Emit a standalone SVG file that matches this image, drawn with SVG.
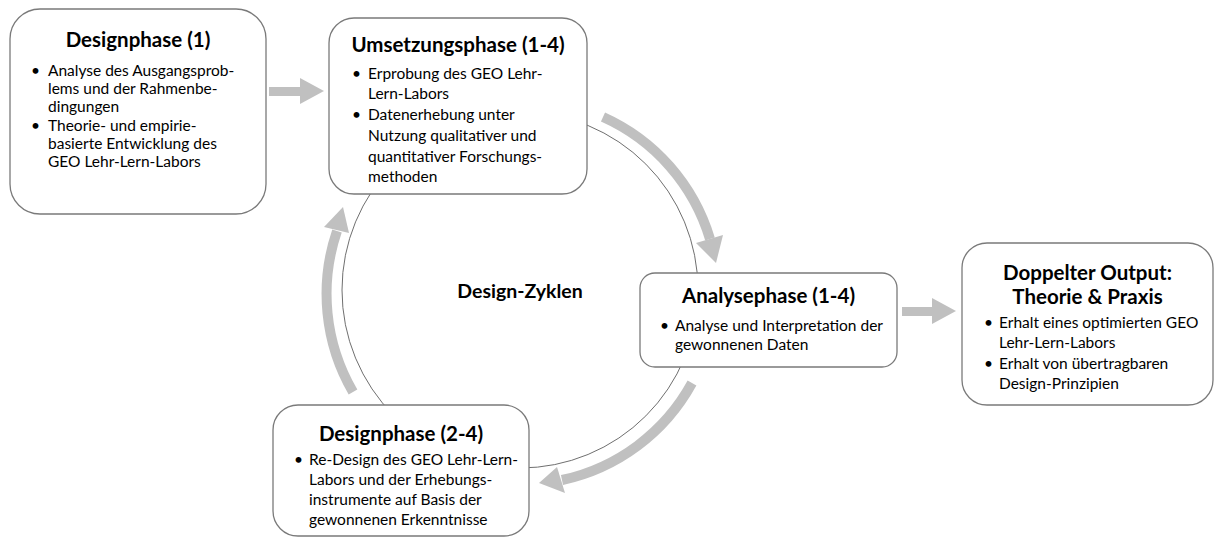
<svg xmlns="http://www.w3.org/2000/svg" width="1216" height="540" viewBox="0 0 1216 540">
<style>
.box{fill:#fff;stroke:#7a7a7a;stroke-width:1.3}
.t{font-family:Lato,"Open Sans",sans-serif;font-weight:bold;font-size:20.5px;fill:#000;text-anchor:middle}
.b{font-family:Lato,"Open Sans",sans-serif;font-size:15.5px;fill:#000}
.ring{fill:none;stroke:#6f6f6f;stroke-width:1}
.shaft{fill:none;stroke:#c0c0c0;stroke-width:10}
.head{fill:#c0c0c0}
</style>
<rect width="1216" height="540" fill="#fff"/>
<circle class="ring" cx="520" cy="290" r="178"/>
<g id="connectors">
<rect class="head" x="269" y="87" width="32" height="9"/>
<polygon class="head" points="300,78 300,104 324,91"/>
<rect class="head" x="902" y="307" width="31" height="9"/>
<polygon class="head" points="932,298 932,324 956,311"/>
<path class="shaft" d="M603,117 A195,195 0 0 1 710,239"/>
<polygon class="head" points="696,243 723,235 716,263"/>
<path class="shaft" d="M692,383 A195,195 0 0 1 562,480"/>
<polygon class="head" points="557,467 565,493 539,483"/>
<path class="shaft" d="M353,392 A195,195 0 0 1 337,231"/>
<polygon class="head" points="324,227 349,233 343,207"/>
</g>
<g id="design1">
<rect class="box" x="10" y="9" width="256" height="205" rx="30"/>
<text class="t" x="138" y="47">Designphase (1)</text>
<text class="b"><tspan x="31" y="76">•</tspan><tspan x="48" y="76">Analyse des Ausgangsprob-</tspan><tspan x="48" y="94">lems und der Rahmenbe-</tspan><tspan x="48" y="112">dingungen</tspan><tspan x="31" y="131">•</tspan><tspan x="48" y="131">Theorie- und empirie-</tspan><tspan x="48" y="149">basierte Entwicklung des</tspan><tspan x="48" y="167">GEO Lehr-Lern-Labors</tspan></text>
</g>
<g id="umsetzung">
<rect class="box" x="329" y="18" width="258" height="176" rx="25"/>
<text class="t" x="458" y="52">Umsetzungsphase (1-4)</text>
<text class="b"><tspan x="352" y="79">•</tspan><tspan x="368" y="79">Erprobung des GEO Lehr-</tspan><tspan x="368" y="99">Lern-Labors</tspan><tspan x="352" y="120">•</tspan><tspan x="368" y="120">Datenerhebung unter</tspan><tspan x="368" y="141">Nutzung qualitativer und</tspan><tspan x="368" y="162">quantitativer Forschungs-</tspan><tspan x="368" y="182">methoden</tspan></text>
</g>
<g id="analyse">
<rect class="box" x="640" y="273" width="257" height="94" rx="15"/>
<text class="t" x="768.5" y="303">Analysephase (1-4)</text>
<text class="b"><tspan x="660" y="331">•</tspan><tspan x="675" y="331">Analyse und Interpretation der</tspan><tspan x="675" y="350">gewonnenen Daten</tspan></text>
</g>
<g id="output">
<rect class="box" x="962" y="243" width="251" height="162" rx="25"/>
<text class="t" x="1087.5" y="280">Doppelter Output:</text>
<text class="t" x="1087.5" y="304">Theorie &amp; Praxis</text>
<text class="b"><tspan x="984" y="328">•</tspan><tspan x="999" y="328">Erhalt eines optimierten GEO</tspan><tspan x="999" y="348">Lehr-Lern-Labors</tspan><tspan x="984" y="369">•</tspan><tspan x="999" y="369">Erhalt von übertragbaren</tspan><tspan x="999" y="389">Design-Prinzipien</tspan></text>
</g>
<g id="design2">
<rect class="box" x="273" y="405" width="256" height="131" rx="25"/>
<text class="t" x="401" y="441">Designphase (2-4)</text>
<text class="b"><tspan x="294" y="465">•</tspan><tspan x="309" y="465">Re-Design des GEO Lehr-Lern-</tspan><tspan x="309" y="485">Labors und der Erhebungs-</tspan><tspan x="309" y="505">instrumente auf Basis der</tspan><tspan x="309" y="525">gewonnenen Erkenntnisse</tspan></text>
</g>
<g id="zyklen">
<text class="t" x="520" y="298" style="font-size:19.5px">Design-Zyklen</text>
</g>
</svg>
